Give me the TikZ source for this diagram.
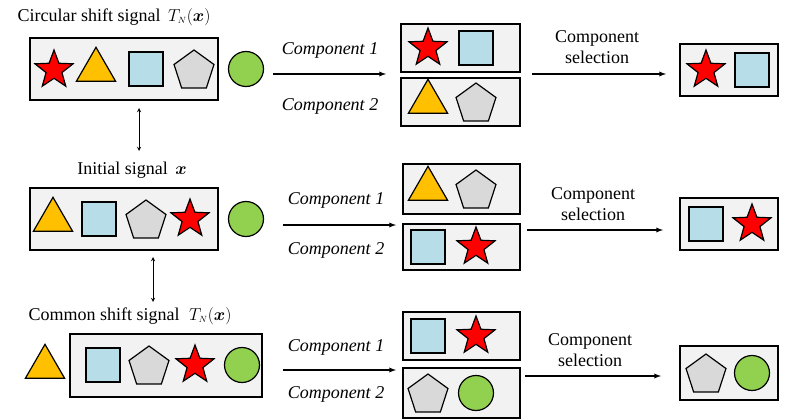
\documentclass[tikz,border=0pt]{standalone}
\usepackage{amsmath}
\usepackage{fontspec}
\setmainfont{Liberation Serif}
\usetikzlibrary{shapes.geometric}
\definecolor{starred}{HTML}{FF0000}
\definecolor{triorange}{HTML}{FFC000}
\definecolor{sqblue}{HTML}{B7DDE8}
\definecolor{pentgray}{HTML}{D9D9D9}
\definecolor{circgreen}{HTML}{92D050}
\definecolor{boxgray}{HTML}{F2F2F2}
\begin{document}
\begin{tikzpicture}[x=1pt,y=-1pt,>=latex,line width=1.3pt,
    every node/.style={font=\fontsize{18}{21}\selectfont},
    fig/.style={draw,line width=1.2pt,inner sep=0pt},
    starfig/.style={fig,star,star points=5,star point ratio=2.4,fill=starred,minimum size=40pt},
    trifig/.style={fig,isosceles triangle,isosceles triangle apex angle=60,shape border rotate=90,fill=triorange,minimum height=34pt,minimum width=36pt},
    sqfig/.style={fig,rectangle,fill=sqblue,minimum size=34pt},
    pentfig/.style={fig,regular polygon,regular polygon sides=5,fill=pentgray,minimum size=42pt},
    circfig/.style={fig,circle,fill=circgreen,minimum size=35pt},
    panel/.style={draw,line width=1.2pt,fill=boxgray},
    lab/.style={font=\fontsize{18}{21}\selectfont\itshape},
    sel/.style={align=center,font=\fontsize{18}{21}\selectfont}]
\useasboundingbox (0,0) rectangle (788,420);
% row 1: circular shift
\node (t1) at (114,17) {Circular shift signal \,$T_{\scriptscriptstyle N}(\boldsymbol{x})$};
\draw[panel] (30,38) rectangle (218,100);
\node[starfig] (a1) at (54,70) {};
\node[trifig] (a2) at (96,70) {};
\node[sqfig] (a3) at (146,69) {};
\node[pentfig] (a4) at (194,71) {};
\node[circfig] (a5) at (246,69) {};
\coordinate (s1) at (273,74);
\coordinate (e1) at (386,74);
\draw[->] (s1) -- (e1);
\node[lab] at (330,50) {Component 1};
\node[lab] at (330,106) {Component 2};
\draw[panel] (401,24) rectangle (520,72);
\draw[panel] (401,78) rectangle (520,126);
\node[starfig] at (428,48) {};
\node[sqfig] at (476,48) {};
\node[trifig] at (428,102) {};
\node[pentfig] at (476,104) {};
\node[sel] at (597,47) {Component\\selection};
\coordinate (s1b) at (532,74);
\coordinate (e1b) at (666,74);
\draw[->] (s1b) -- (e1b);
\draw[panel] (680,44) rectangle (778,96);
\node[starfig] at (706,70) {};
\node[sqfig] at (752,70) {};
% link
\coordinate (d1) at (139,108);
\coordinate (d2) at (139,151);
\draw[<->,line width=0.9pt,>=stealth] (d1) -- (d2);
% row 2: initial
\node (t2) at (132,170) {Initial signal \,$\boldsymbol{x}$};
\draw[panel] (30,188) rectangle (218,250);
\node[trifig] (b1) at (53,220) {};
\node[sqfig] (b2) at (99,219) {};
\node[pentfig] (b3) at (146,221) {};
\node[starfig] (b4) at (190,219) {};
\node[circfig] (b5) at (246,219) {};
\coordinate (s2) at (283,225);
\coordinate (e2) at (396,225);
\draw[->] (s2) -- (e2);
\node[lab] at (336,200) {Component 1};
\node[lab] at (336,250) {Component 2};
\draw[panel] (403,164) rectangle (520,214);
\draw[panel] (403,224) rectangle (520,270);
\node[trifig] at (428,189) {};
\node[pentfig] at (476,191) {};
\node[sqfig] at (428,247) {};
\node[starfig] at (476,247) {};
\node[sel] at (593,204) {Component\\selection};
\coordinate (s2b) at (527,230);
\coordinate (e2b) at (663,230);
\draw[->] (s2b) -- (e2b);
\draw[panel] (680,198) rectangle (778,250);
\node[sqfig] at (706,224) {};
\node[starfig] at (752,224) {};
% link
\coordinate (d3) at (153,257);
\coordinate (d4) at (153,302);
\draw[<->,line width=0.9pt,>=stealth] (d3) -- (d4);
% row 3: common shift
\node (t3) at (130,316) {Common shift signal \;$T_{\scriptscriptstyle N}(\boldsymbol{x})$};
\node[trifig] (c1) at (45,367) {};
\draw[panel] (70,334) rectangle (262,397);
\node[sqfig] (c2) at (103,365) {};
\node[pentfig] (c3) at (149,367) {};
\node[starfig] (c4) at (195,365) {};
\node[circfig] (c5) at (242,365) {};
\coordinate (s3) at (283,370);
\coordinate (e3) at (396,370);
\draw[->] (s3) -- (e3);
\node[lab] at (336,347) {Component 1};
\node[lab] at (336,394) {Component 2};
\draw[panel] (403,312) rectangle (520,360);
\draw[panel] (403,368) rectangle (520,418);
\node[sqfig] at (428,336) {};
\node[starfig] at (476,336) {};
\node[pentfig] at (428,395) {};
\node[circfig] at (476,393) {};
\node[sel] at (590,350) {Component\\selection};
\coordinate (s3b) at (525,376);
\coordinate (e3b) at (661,376);
\draw[->] (s3b) -- (e3b);
\draw[panel] (680,346) rectangle (778,400);
\node[pentfig] at (706,375) {};
\node[circfig] at (752,373) {};
\end{tikzpicture}
\end{document}
